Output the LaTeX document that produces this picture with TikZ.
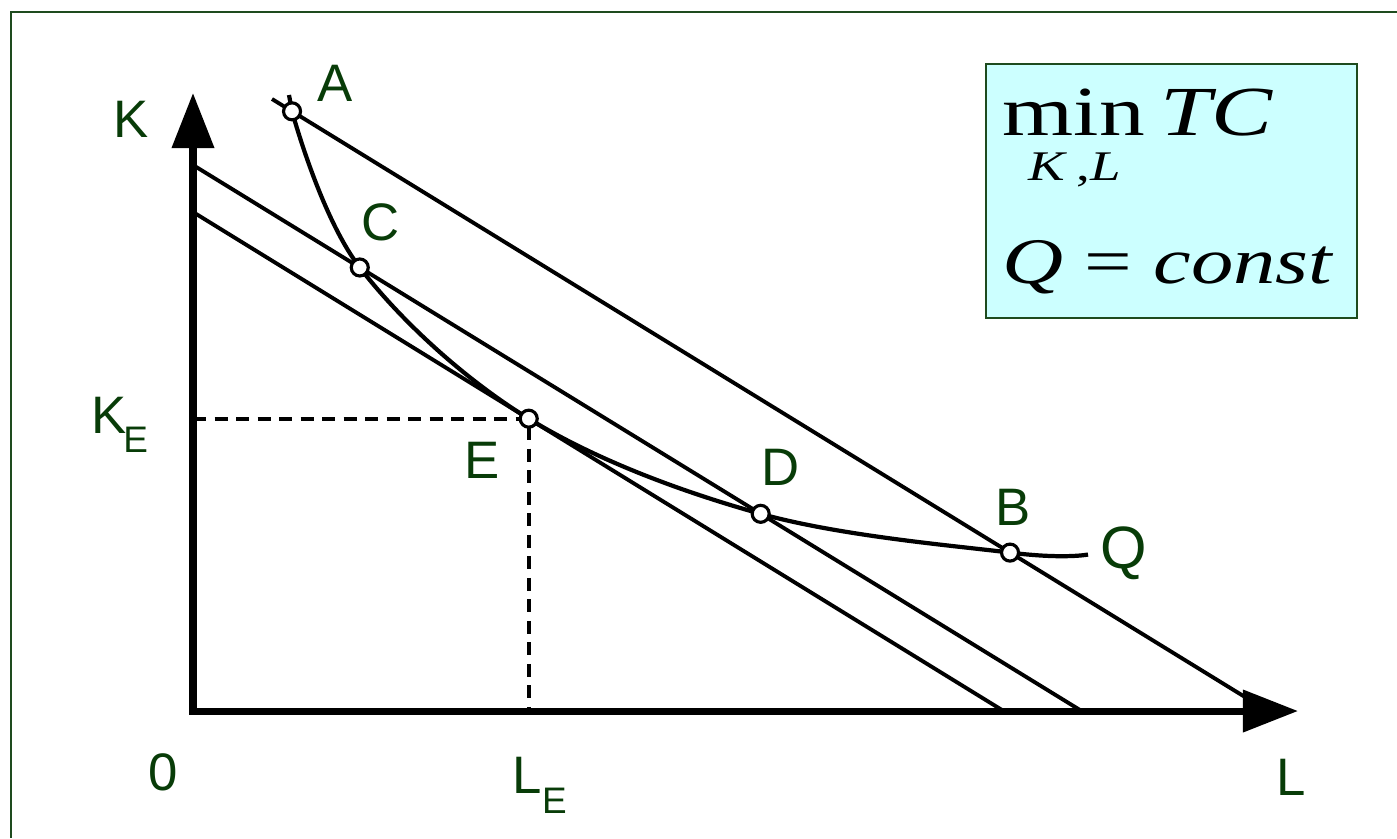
\documentclass[tikz,border=0pt]{standalone}
\usepackage{fontspec}
\usetikzlibrary{arrows.meta}
\newfontfamily\lblfont{Liberation Sans}
\newfontfamily\eqfont{Liberation Serif}
\definecolor{lblgreen}{RGB}{8,60,8}
\definecolor{framegreen}{RGB}{30,75,30}
\definecolor{boxcyan}{RGB}{204,255,255}

\begin{document}
\begin{tikzpicture}[x=0.01cm,y=-0.01cm,
  axis/.style={line width=2pt,{Triangle[length=0.55cm,width=0.41cm]}-{Triangle[length=0.55cm,width=0.41cm]}},
  budget/.style={line width=1.1pt},
  isoquant/.style={line width=1.2pt},
  guide/.style={line width=1.1pt,dash pattern=on 0.13cm off 0.085cm},
  pt/.style={circle,draw,fill=white,line width=0.9pt,inner sep=0pt,minimum size=0.17cm},
  lbl/.style={text=lblgreen,font=\lblfont\fontsize{15}{18}\selectfont,inner sep=0pt},
  eq/.style={font=\eqfont,inner sep=0pt,anchor=base west}]
\useasboundingbox (0,0) rectangle (1397,838);
\coordinate (fr1) at (1397,12);
\coordinate (fr2) at (11,12);
\coordinate (fr3) at (11,838);
\draw[framegreen,line width=0.6pt] (fr1) -- (fr2) -- (fr3);

\coordinate (origin) at (193,711);
\coordinate (ktip) at (193,93);
\coordinate (ltip) at (1298,711);
\coordinate (p1s) at (193,212);
\coordinate (p1e) at (1002,710);
\coordinate (p2s) at (193,165);
\coordinate (p2e) at (1080,710);
\coordinate (p3s) at (272,99);
\coordinate (p3e) at (1245,697);
\coordinate (qtop) at (289,95);
\coordinate (qend) at (1088,554.5);
\path (p1s) -- (p1e) coordinate[pos=0.415] (E);
\path (p2s) -- (p2e) coordinate[pos=0.188] (C) coordinate[pos=0.640] (D);
\path (p3s) -- (p3e) coordinate[pos=0.0206] (A) coordinate[pos=0.7585] (B);

\draw[guide] (origin |- E) -- (E) -- (E |- origin);
\draw[budget] (p1s) -- (p1e);
\draw[budget] (p2s) -- (p2e);
\draw[budget] (p3s) -- (p3e);
\draw[isoquant] (qtop) -- (A);
\draw[isoquant] plot[smooth,tension=0.6] coordinates {(A) (C) (E) (D) (B) (qend)};
\draw[axis] (ktip) -- (origin) -- (ltip);

\node[pt] (ptA) at (A) {};
\node[pt] (ptC) at (C) {};
\node[pt] (ptE) at (E) {};
\node[pt] (ptD) at (D) {};
\node[pt] (ptB) at (B) {};

\node[lbl] (labK) at (131,119) {K};
\node[lbl] (labA) at (335,83) {A};
\node[lbl] (labC) at (381,222) {C};
\node[lbl] (labE) at (482,460) {E};
\node[lbl] (labD) at (781,467) {D};
\node[lbl] (labB) at (1013,507) {B};
\node[lbl,font=\lblfont\fontsize{17}{20}\selectfont] (labQ) at (1124,553) {Q};
\node[lbl] (lab0) at (163,772) {0};
\node[lbl] (labL) at (1291,777) {L};
\node[lbl,anchor=base west] (labKE) at (91,433) {K\kern-1pt{\fontsize{10.5}{11}\selectfont\raisebox{-0.19cm}{E}}};
\node[lbl,anchor=base west] (labLE) at (512,793) {L{\fontsize{10.5}{11}\selectfont\raisebox{-0.2cm}{E}}};

\node[draw=framegreen,line width=0.7pt,fill=boxcyan,minimum width=3.71cm,minimum height=2.54cm] (goal) at (1171.5,191) {};
\node[eq] (goalmin) at (1002,135) {\fontsize{20}{24}\selectfont\scalebox{1.3}[1]{min\,\textit{TC}}};
\node[eq] (goalsub) at (1028,180) {\fontsize{12}{14}\selectfont\scalebox{1.3}[1]{\textit{K}\,,\textit{L}}};
\node[eq] (goalq) at (1002,283) {\fontsize{18.5}{22}\selectfont\scalebox{1.3}[1]{\textit{Q} = \textit{const}}};
\end{tikzpicture}
\end{document}
